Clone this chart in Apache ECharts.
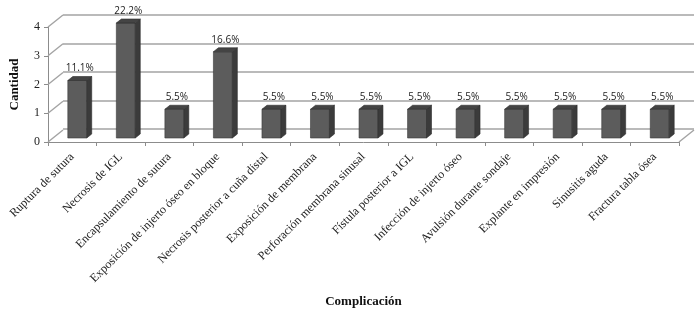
<!DOCTYPE html>
<html>
<head>
<meta charset="utf-8">
<script src="https://cdn.jsdelivr.net/npm/echarts@6/dist/echarts.min.js"></script>
<style>
  html, body { margin: 0; padding: 0; background: #fff; }
  #main { width: 700px; height: 310px; }
</style>
</head>
<body>
<div id="main"></div>
<script>
var categories = ['Ruptura de sutura', 'Necrosis de IGL', 'Encapsulamiento de sutura',
  'Exposición de injerto óseo en bloque', 'Necrosis posterior a cuña distal',
  'Exposición de membrana', 'Perforación membrana sinusal', 'Fístula posterior a IGL',
  'Infección de injerto óseo', 'Avulsión durante sondaje', 'Explante en impresión',
  'Sinusitis aguda', 'Fractura tabla ósea'];
var cantidad = [2, 4, 1, 3, 1, 1, 1, 1, 1, 1, 1, 1, 1];
var porcentajes = ['11.1%', '22.2%', '5.5%', '16.6%', '5.5%', '5.5%', '5.5%',
  '5.5%', '5.5%', '5.5%', '5.5%', '5.5%', '5.5%'];
var yTicks = [0, 1, 2, 3, 4];

var chartDom = document.getElementById('main');
var myChart = echarts.init(chartDom);
var option;

// depth of the 3D box and of each bar
var wallDx = 15, wallDy = -12;
var barDx = 5, barDy = -4;

var barData = cantidad.map(function (v, i) { return [i, v, porcentajes[i]]; });
var tickData = yTicks.map(function (v) { return [0, v]; });

option = {
  animation: false,
  grid: [
    { left: 48, right: 21, top: 27, bottom: 168 },
    { left: 63, right: 6, top: 15, bottom: 181 }
  ],
  xAxis: [
    {
      type: 'category',
      gridIndex: 0,
      data: categories,
      name: 'Complicación',
      nameLocation: 'middle',
      nameGap: 153,
      nameTextStyle: { fontFamily: 'Liberation Serif', fontWeight: 'bold', fontSize: 13, color: '#111' },
      axisLine: { lineStyle: { color: '#8c8c8c', width: 1 } },
      axisTick: { show: true, length: 4, lineStyle: { color: '#8c8c8c' } },
      axisLabel: {
        interval: 0, rotate: 45, margin: 13,
        fontFamily: 'Liberation Serif', fontSize: 12, color: '#222'
      }
    },
    {
      type: 'category',
      gridIndex: 1,
      data: categories,
      show: false
    }
  ],
  yAxis: [
    {
      type: 'value',
      gridIndex: 0,
      min: 0, max: 4, interval: 1,
      name: 'Cantidad',
      nameLocation: 'middle',
      nameGap: 27,
      nameTextStyle: { fontFamily: 'Liberation Serif', fontWeight: 'bold', fontSize: 13, color: '#111' },
      axisLine: { show: true, lineStyle: { color: '#8c8c8c', width: 1 } },
      axisTick: { show: true, length: 4, lineStyle: { color: '#8c8c8c' } },
      axisLabel: { fontFamily: 'Liberation Serif', fontSize: 12, color: '#222', margin: 8 },
      splitLine: { show: false }
    },
    {
      type: 'value',
      gridIndex: 1,
      min: 0, max: 4, interval: 1,
      axisLine: { show: false },
      axisTick: { show: false },
      axisLabel: { show: false },
      splitLine: { show: true, lineStyle: { color: '#a3a3a3', width: 1.5 } }
    }
  ],
  series: [
    {
      // side wall and floor edges
      type: 'custom',
      xAxisIndex: 0,
      yAxisIndex: 0,
      data: tickData,
      silent: true,
      z: 1,
      renderItem: function (params, api) {
        var p = api.coord([0, api.value(1)]);
        var half = api.size([1, 0])[0] / 2;
        var x0 = p[0] - half;
        var children = [{
          type: 'line',
          shape: { x1: x0, y1: p[1], x2: x0 + wallDx, y2: p[1] + wallDy },
          style: { stroke: '#a3a3a3', lineWidth: 1.5 }
        }];
        if (api.value(1) === 0) {
          var q = api.coord([categories.length - 1, 0]);
          var x1 = q[0] + half;
          children.push({
            type: 'line',
            shape: { x1: x1, y1: q[1], x2: x1 + wallDx, y2: q[1] + wallDy },
            style: { stroke: '#a3a3a3', lineWidth: 1.5 }
          });
        }
        return { type: 'group', children: children };
      }
    },
    {
      name: 'Cantidad',
      type: 'custom',
      xAxisIndex: 0,
      yAxisIndex: 0,
      data: barData,
      z: 3,
      renderItem: function (params, api) {
        var i = api.value(0);
        var base = api.coord([i, 0]);
        var top = api.coord([i, api.value(1)]);
        var bw = api.size([1, 0])[0] * 0.39;
        var fx = base[0] + barDx - bw / 2;
        var ty = top[1] + barDy;
        var by = base[1] + barDy;
        return {
          type: 'group',
          children: [
            {
              type: 'rect',
              shape: { x: fx, y: ty, width: bw, height: by - ty },
              style: { fill: '#5c5c5c', stroke: '#3a3a3a', lineWidth: 0.6 }
            },
            {
              type: 'polygon',
              shape: { points: [[fx + bw, ty], [fx + bw + barDx, ty + barDy], [fx + bw + barDx, by + barDy], [fx + bw, by]] },
              style: { fill: '#3b3b3b', stroke: '#2e2e2e', lineWidth: 0.6 }
            },
            {
              type: 'polygon',
              shape: { points: [[fx, ty], [fx + barDx, ty + barDy], [fx + bw + barDx, ty + barDy], [fx + bw, ty]] },
              style: { fill: '#444444', stroke: '#2e2e2e', lineWidth: 0.6 }
            },
            {
              type: 'text',
              style: {
                x: fx + (bw + barDx) / 2,
                y: ty + barDy - 3,
                text: porcentajes[i],
                align: 'center',
                verticalAlign: 'bottom',
                fontFamily: 'Open Sans',
                fontSize: 10,
                fill: '#222'
              }
            }
          ]
        };
      }
    }
  ]
};

option && myChart.setOption(option);
</script>
</body>
</html>
